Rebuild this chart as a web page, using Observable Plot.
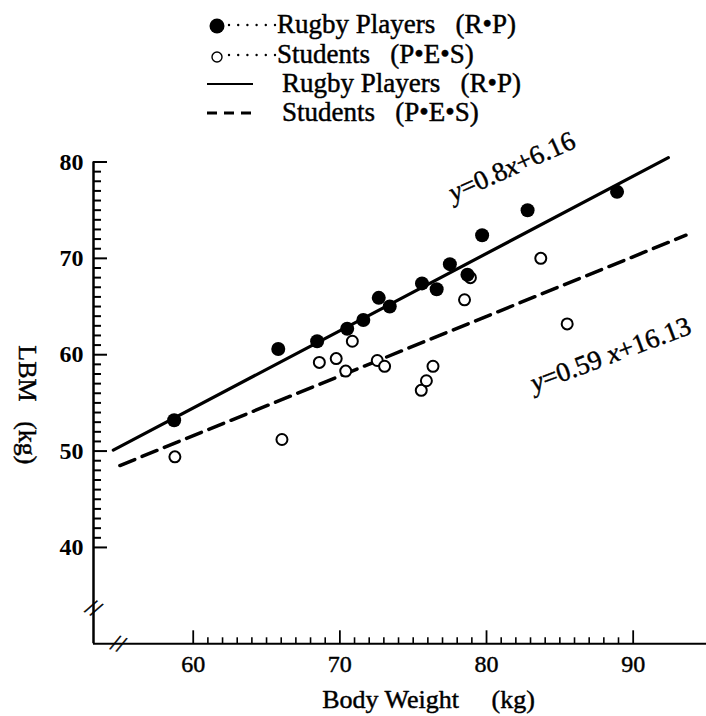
<!DOCTYPE html>
<html><head><meta charset="utf-8">
<script src="https://cdn.jsdelivr.net/npm/d3@7"></script>
<script src="https://cdn.jsdelivr.net/npm/@observablehq/plot@0.6"></script>
<style>
body{margin:0;background:#fff;}
#wrap{position:relative;width:706px;height:716px;}
#chart{position:absolute;left:0;top:0;}
#legend{position:absolute;left:0;top:0;}
</style></head><body>
<div id="wrap"><div id="chart"></div><svg id="legend" width="706" height="132"></svg></div>
<script>
// ---- data ----
const rugbyWeight = [58.7, 65.8, 68.45, 70.5, 71.6, 72.65, 73.4, 75.6, 76.6, 77.5, 78.7, 79.7, 82.8, 88.9];
const rugbyLBM    = [53.2, 60.6, 61.4, 62.7, 63.6, 65.9, 65.0, 67.4, 66.8, 69.4, 68.3, 72.4, 75.0, 76.9];
const studentWeight = [58.75, 66.05, 68.6, 69.75, 70.4, 70.85, 72.55, 73.05, 75.55, 75.9, 76.35, 78.5, 78.9, 83.7, 85.5];
const studentLBM    = [49.4, 51.2, 59.2, 59.6, 58.3, 61.4, 59.4, 58.8, 56.3, 57.3, 58.8, 65.7, 68.0, 70.0, 63.2];
// regression line end points (as drawn)
const rugbyFitWeight = [54.55, 92.4];
const rugbyFitLBM    = [50.1, 80.45];
const studentFitWeight = [55.0, 93.6];
const studentFitLBM    = [48.5, 72.4];
// tick labels
const xTickLabels = [60, 70, 80, 90];
const yTickLabels = [40, 50, 60, 70, 80];
// annotations
const eqLabels = ["y=0.8x+6.16", "y=0.59\u00a0x+16.13"];
const eqWeight = [77.75, 83.27];
const eqLBM    = [75.85, 56.1];
const eqAngle  = [-24, -20.5];
const legendLabels = ["Rugby Players\u00a0\u00a0\u00a0(R•P)", "Students\u00a0\u00a0\u00a0(P•E•S)", "Rugby Players\u00a0\u00a0\u00a0(R•P)", "Students\u00a0\u00a0\u00a0(P•E•S)"];
const xTitle = "Body Weight\u00a0\u00a0\u00a0\u00a0\u00a0(kg)";
const yTitle = "LBM\u00a0\u00a0\u00a0(kg)";
// axis breaks (data units)
const breakX = 54.9, breakY = 33.7;

// ---- layout ----
const xMin = 53.2, xMax = 95, yMin = 30, yMax = 80;
const W = 706, H = 716, mL = 93, mR = 0, mT = 161.5, mB = 72.7;
const innerW = W - mL - mR, innerH = H - mT - mB;
const FONT = "'Liberation Serif', 'Times New Roman', serif";
const INK = {fill: "black", stroke: "black", strokeWidth: 0.45};

const rugby = rugbyWeight.map((w, i) => ({w, lbm: rugbyLBM[i]}));
const students = studentWeight.map((w, i) => ({w, lbm: studentLBM[i]}));
const rugbyFit = rugbyFitWeight.map((w, i) => ({w, lbm: rugbyFitLBM[i]}));
const studentFit = studentFitWeight.map((w, i) => ({w, lbm: studentFitLBM[i]}));
const eqs = eqLabels.map((t, i) => ({t, w: eqWeight[i], lbm: eqLBM[i], a: eqAngle[i]}));

const yMinor = d3.range(40, 81).filter(d => !yTickLabels.includes(d));
const xMinor = d3.range(60, 91).filter(d => !xTickLabels.includes(d));

const chart = Plot.plot({
  width: W, height: H,
  marginLeft: mL, marginRight: mR, marginTop: mT, marginBottom: mB,
  x: {domain: [xMin, xMax], axis: null},
  y: {domain: [yMin, yMax], axis: null},
  style: {fontFamily: FONT, background: "white", color: "black", overflow: "visible"},
  marks: [
    // axis lines
    Plot.ruleX([xMin], {stroke: "black", strokeWidth: 2.5}),
    Plot.ruleY([yMin], {stroke: "black", strokeWidth: 2}),
    // y ticks (inward)
    Plot.ruleY(yMinor, {y: d => d, stroke: "black", strokeWidth: 2, insetRight: innerW - 8}),
    Plot.ruleY(yTickLabels, {y: d => d, stroke: "black", strokeWidth: 2, insetRight: innerW - 14}),
    // x ticks (inward)
    Plot.ruleX(xMinor, {x: d => d, stroke: "black", strokeWidth: 1.6, insetTop: innerH - 6}),
    Plot.ruleX(xTickLabels, {x: d => d, stroke: "black", strokeWidth: 1.8, insetTop: innerH - 13}),
    // axis breaks
    Plot.text(["//"], {x: xMin, y: breakY, text: d => d, rotate: 30, fontSize: 24, ...INK}),
    Plot.text(["//"], {x: breakX, y: yMin, text: d => d, rotate: 20, fontSize: 24, ...INK}),
    // tick labels
    Plot.text(yTickLabels, {x: xMin, y: d => d, text: d => String(d), textAnchor: "end", dx: -10, fontSize: 24, fontWeight: "bold", fill: "black"}),
    Plot.text(xTickLabels, {x: d => d, y: yMin, text: d => String(d), lineAnchor: "bottom", dy: 28, fontSize: 24, ...INK}),
    // axis titles
    Plot.text([xTitle], {frameAnchor: "bottom", text: d => d, textAnchor: "middle", dx: 28.5, dy: 64, lineAnchor: "bottom", fontSize: 26, ...INK}),
    Plot.text([yTitle], {frameAnchor: "left", text: d => d, textAnchor: "middle", dx: -66, dy: 2, rotate: 90, fontSize: 26, ...INK}),
    // regression lines
    Plot.line(rugbyFit, {x: "w", y: "lbm", stroke: "black", strokeWidth: 3.2}),
    Plot.line(studentFit, {x: "w", y: "lbm", stroke: "black", strokeWidth: 3.5, strokeDasharray: "16,8"}),
    // points
    Plot.dot(students, {x: "w", y: "lbm", r: 5.5, fill: "white", stroke: "black", strokeWidth: 2}),
    Plot.dot(rugby, {x: "w", y: "lbm", r: 7, fill: "black", stroke: "none"}),
    // equations
    Plot.text(eqs.slice(0, 1), {x: "w", y: "lbm", text: "t", rotate: eqAngle[0], textAnchor: "start", lineAnchor: "bottom", fontSize: 27, ...INK}),
    Plot.text(eqs.slice(1), {x: "w", y: "lbm", text: "t", rotate: eqAngle[1], textAnchor: "start", lineAnchor: "bottom", fontSize: 27, ...INK})
  ]
});
document.getElementById("chart").appendChild(chart);

// plain dark ink for all text (no halo), italic variables in equations
d3.select(chart).selectAll("g[aria-label='text'], g").filter(function() { return this.querySelector(":scope > text"); })
  .attr("paint-order", null).style("paint-order", "normal");
d3.select(chart).selectAll("text").each(function() {
  const t = this.textContent;
  if (!t.startsWith("y=")) return;
  const parts = t.split(/([xy])/).filter(p => p);
  this.textContent = "";
  parts.forEach(p => {
    const ts = d3.select(this).append("tspan").text(p);
    if (p === "x" || p === "y") ts.attr("font-style", "italic");
  });
});

// ---- legend ----
const lg = d3.select("#legend").style("font-family", FONT);
const baselines = [33, 63, 92, 121];
const textX = [277, 277, 282, 282];
legendLabels.forEach((lab, i) => {
  lg.append("text").attr("x", textX[i]).attr("y", baselines[i]).attr("font-size", 27)
    .attr("fill", "black").attr("stroke", "black").attr("stroke-width", 0.45).text(lab);
});
// symbols
lg.append("circle").attr("cx", 217).attr("cy", 26).attr("r", 7.5).attr("fill", "black");
lg.append("circle").attr("cx", 217).attr("cy", 57).attr("r", 5).attr("fill", "white").attr("stroke", "black").attr("stroke-width", 1.4);
[25, 55].forEach(y => {
  lg.append("line").attr("x1", 229).attr("x2", 276).attr("y1", y).attr("y2", y)
    .attr("stroke", "black").attr("stroke-width", 2.4).attr("stroke-linecap", "round").attr("stroke-dasharray", "0,9.2");
});
lg.append("line").attr("x1", 207).attr("x2", 253).attr("y1", 84).attr("y2", 84).attr("stroke", "black").attr("stroke-width", 2);
lg.append("line").attr("x1", 207).attr("x2", 253).attr("y1", 113).attr("y2", 113).attr("stroke", "black").attr("stroke-width", 3).attr("stroke-dasharray", "10,7");
</script>
</body></html>
